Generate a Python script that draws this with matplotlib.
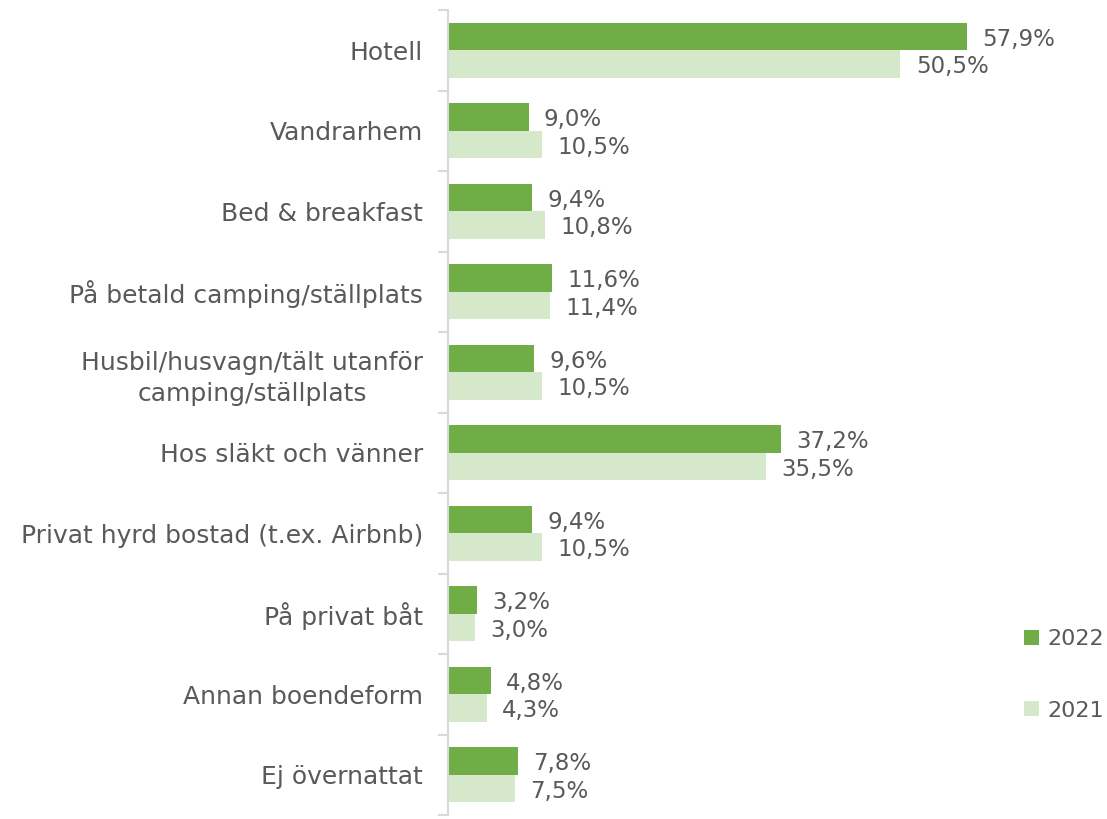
import matplotlib
matplotlib.use("Agg")
import matplotlib.pyplot as plt
import numpy as np

categories = ["Hotell", "Vandrarhem", "Bed & breakfast", "På betald camping/ställplats",
              "Husbil/husvagn/tält utanför\ncamping/ställplats", "Hos släkt och vänner",
              "Privat hyrd bostad (t.ex. Airbnb)", "På privat båt", "Annan boendeform",
              "Ej övernattat"]
v2022 = [57.9, 9.0, 9.4, 11.6, 9.6, 37.2, 9.4, 3.2, 4.8, 7.8]
v2021 = [50.5, 10.5, 10.8, 11.4, 10.5, 35.5, 10.5, 3.0, 4.3, 7.5]
series_labels = ["2022", "2021"]

c2022 = "#70AD47"
c2021 = "#D5E8CA"
txt = "#595959"
plt.rcParams['font.family'] = ['DejaVu Sans']

fig = plt.figure(figsize=(11.07, 8.19), dpi=100)
ax = fig.add_axes([448/1107, 1-815/819, (1010-448)/1107, 805/819])
px_per_unit = 8.96
ax.set_xlim(0, (1010-448)/px_per_unit)
n = len(categories)
y = np.arange(n)
h = 0.34
b1 = ax.barh(y - h/2, v2022, height=h, color=c2022, label=series_labels[0])
b2 = ax.barh(y + h/2, v2021, height=h, color=c2021, label=series_labels[1])
ax.set_ylim(n - 0.5, -0.5)

for bars, vals in ((b1, v2022), (b2, v2021)):
    for r, v in zip(bars, vals):
        ax.annotate(f"{v:.1f}%".replace(".", ","), (v, r.get_y() + r.get_height()/2),
                    xytext=(11, -2), textcoords="offset points", va="center", ha="left",
                    fontsize=16.5, color=txt)

ax.set_yticks(y)
ax.set_yticklabels(categories, fontsize=18, color=txt, linespacing=1.4)
ax.set_yticks(np.arange(n + 1) - 0.5, minor=True)
ax.tick_params(axis='y', which='major', length=0, pad=18)
ax.tick_params(axis='y', which='minor', length=7, width=1.5, color="#D9D9D9")
for lbl in ax.get_yticklabels():
    lbl.set_multialignment('center')
ax.set_xticks([])
for s in ["top", "right", "bottom"]:
    ax.spines[s].set_visible(False)
ax.spines["left"].set_color("#D9D9D9")
ax.spines["left"].set_linewidth(1.5)

leg = fig.legend(handles=[b1, b2], labels=series_labels, loc="center left",
                 bbox_to_anchor=(1024/1107, 1-675/819), frameon=False, fontsize=16,
                 labelspacing=2.3, handlelength=0.68, handleheight=0.68, handletextpad=0.36,
                 borderpad=0, borderaxespad=0)
for t in leg.get_texts():
    t.set_color(txt)

fig.savefig("out.png", dpi=100)
